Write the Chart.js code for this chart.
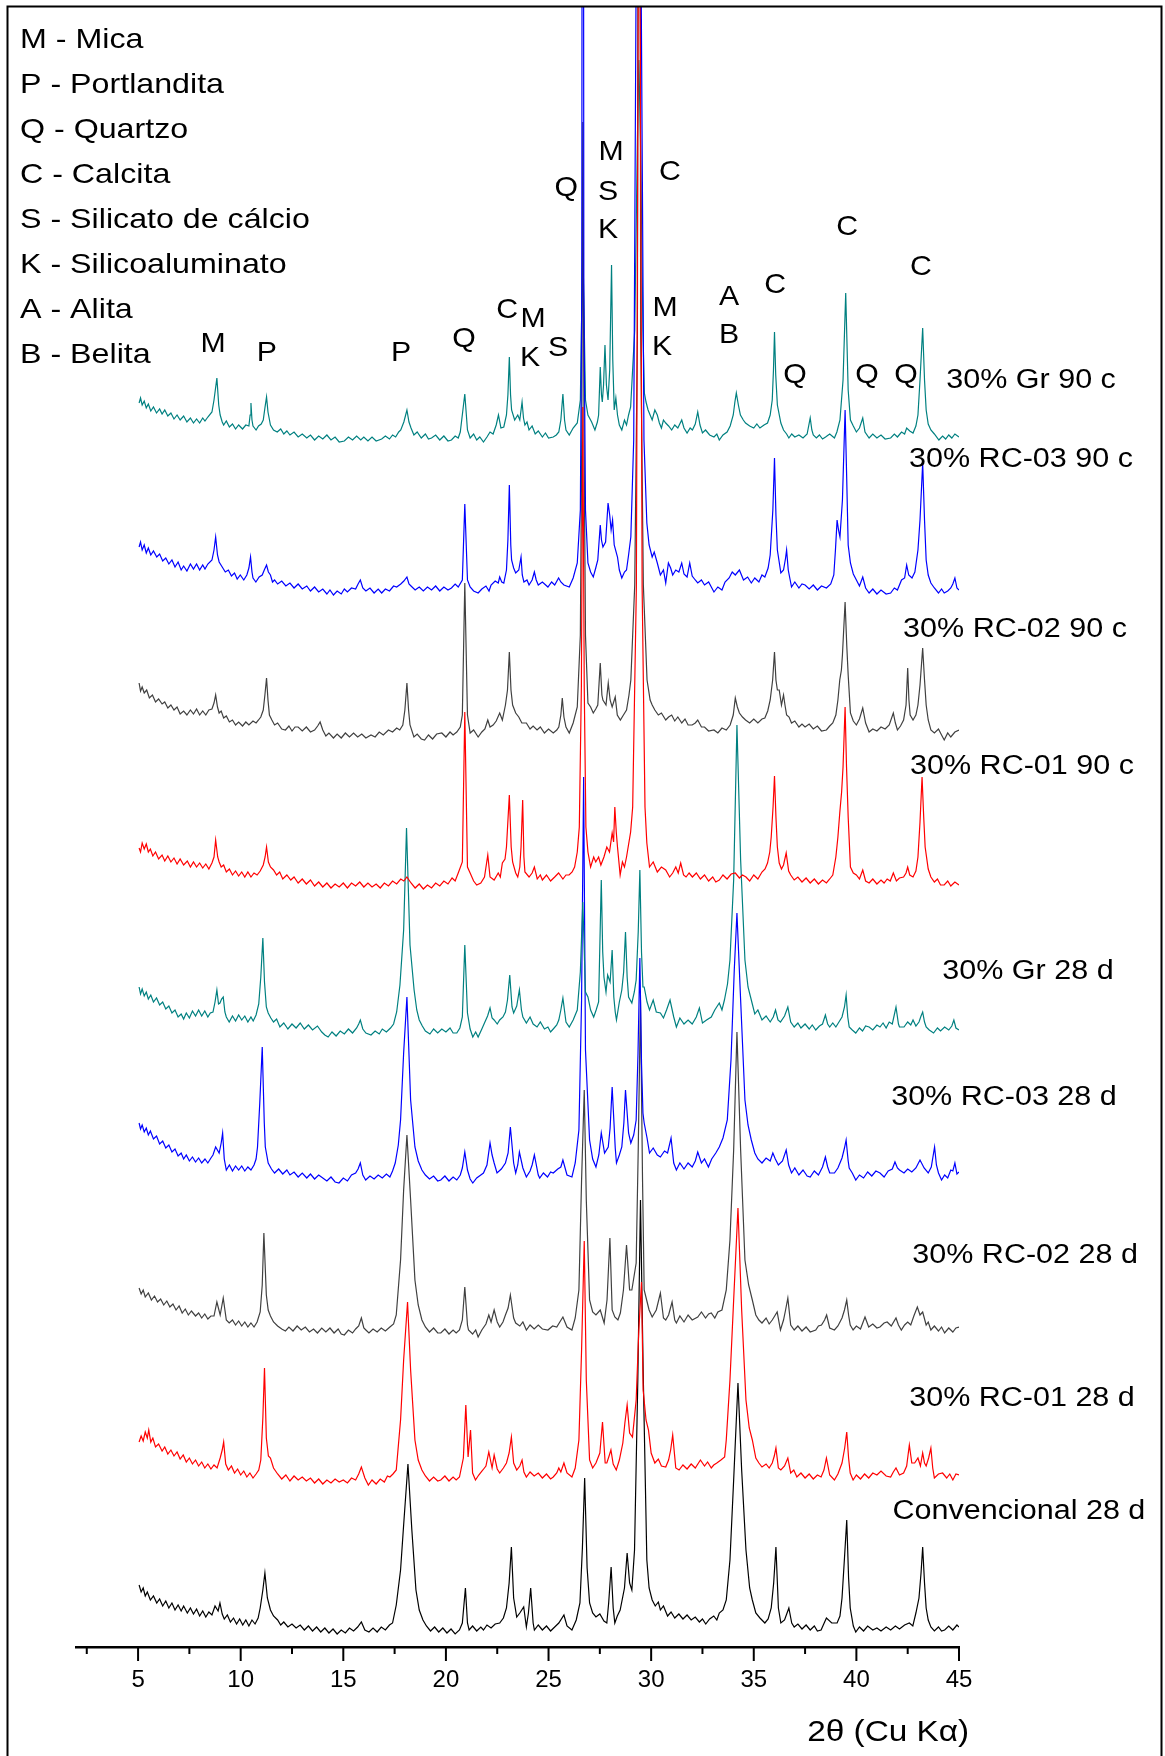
<!DOCTYPE html>
<html><head><meta charset="utf-8">
<script src="https://cdn.jsdelivr.net/npm/chart.js@4/dist/chart.umd.min.js"></script>
<style>html,body{margin:0;padding:0;background:#fff;}canvas{display:block;}</style>
</head><body>
<canvas id="c" width="1165" height="1756"></canvas>
<script>
// ---------- DATA (2θ in degrees, intensity in a.u. relative to each trace's baseline) ----------
const seriesNames = ['Convencional 28 d','30% RC-01 28 d','30% RC-02 28 d','30% RC-03 28 d','30% Gr 28 d','30% RC-01 90 c','30% RC-02 90 c','30% RC-03 90 c','30% Gr 90 c'];
const seriesOffsets = [19, 169, 317, 474, 615, 760, 912, 1057, 1207];

const conv28d = [[5.05,43],[5.15,36],[5.25,40],[5.35,32],[5.45,36],[5.6,28],[5.75,32],[5.91,25],[6.05,29],[6.2,22],[6.35,27],[6.5,20],[6.65,25],[6.8,18],[6.95,23],[7.1,17],[7.22,22],[7.4,15],[7.55,20],[7.7,14],[7.85,19],[8.0,12],[8.15,17],[8.3,11],[8.45,16],[8.6,13],[8.75,22],[8.9,17],[8.99,25],[9.1,14],[9.2,9],[9.35,13],[9.5,6],[9.65,10],[9.8,4],[9.95,9],[10.1,3],[10.25,8],[10.4,2],[10.55,8],[10.7,4],[10.85,10],[10.95,20],[11.08,38],[11.18,55],[11.3,30],[11.45,18],[11.6,12],[11.8,8],[11.95,3],[12.1,6],[12.3,1],[12.5,4],[12.7,0],[12.9,3],[13.1,-2],[13.3,2],[13.5,-3],[13.7,1],[13.9,-4],[14.1,0],[14.3,-5],[14.5,-1],[14.7,-6],[14.9,-2],[15.1,-5],[15.3,0],[15.5,-3],[15.7,1],[15.88,6],[16.05,-2],[16.25,-4],[16.45,0],[16.65,-4],[16.85,1],[17.05,-2],[17.25,3],[17.4,5],[17.58,23],[17.79,58],[17.94,103],[18.15,164],[18.34,98],[18.54,38],[18.7,18],[18.88,8],[19.05,2],[19.25,-3],[19.45,1],[19.65,-4],[19.85,0],[20.05,-5],[20.25,-1],[20.45,-6],[20.66,-2],[20.8,5],[20.95,40],[21.05,5],[21.13,-2],[21.3,2],[21.5,-3],[21.7,1],[21.83,-2],[22.0,3],[22.2,0],[22.4,4],[22.62,5],[22.8,10],[22.95,20],[23.08,45],[23.19,81],[23.3,30],[23.45,11],[23.6,15],[23.79,21],[23.92,1],[24.02,15],[24.13,40],[24.25,5],[24.31,-2],[24.5,3],[24.7,-2],[24.9,2],[25.1,-3],[25.3,1],[25.5,5],[25.75,13],[25.9,2],[26.14,-2],[26.35,8],[26.53,25],[26.65,80],[26.76,150],[26.88,60],[27.0,25],[27.15,15],[27.31,11],[27.5,14],[27.7,7],[27.84,5],[27.93,25],[28.05,61],[28.15,20],[28.23,5],[28.35,12],[28.49,18],[28.7,40],[28.83,75],[28.95,45],[29.06,38],[29.19,78],[29.35,248],[29.48,428],[29.61,258],[29.79,68],[29.9,40],[30.05,28],[30.2,22],[30.35,26],[30.45,18],[30.6,22],[30.8,12],[30.97,16],[31.15,10],[31.35,14],[31.55,9],[31.75,13],[31.95,8],[32.15,11],[32.35,6],[32.5,9],[32.66,4],[32.85,9],[33.05,12],[33.2,8],[33.32,15],[33.5,18],[33.66,28],[33.84,68],[34.02,148],[34.23,245],[34.41,158],[34.62,78],[34.8,40],[34.93,28],[35.1,15],[35.3,10],[35.54,5],[35.7,9],[35.85,20],[35.97,45],[36.08,81],[36.2,20],[36.32,5],[36.5,8],[36.71,20],[36.85,5],[36.97,1],[37.15,4],[37.35,-1],[37.55,3],[37.75,-2],[37.95,2],[38.1,-3],[38.28,-2],[38.54,10],[38.8,5],[39.06,5],[39.2,12],[39.3,30],[39.42,70],[39.53,108],[39.62,50],[39.7,20],[39.85,2],[39.97,-4],[40.15,1],[40.35,-3],[40.55,2],[40.8,-2],[41.0,0],[41.2,-3],[41.45,1],[41.67,-2],[41.9,2],[42.1,-1],[42.35,3],[42.58,5],[42.75,2],[42.9,15],[43.05,30],[43.15,55],[43.23,81],[43.32,45],[43.4,20],[43.5,8],[43.63,1],[43.8,-3],[44.0,1],[44.15,-3],[44.3,-2],[44.5,2],[44.7,-2],[44.9,3],[45.0,1]];

const rc01_28d = [[5.05,36],[5.15,42],[5.25,37],[5.35,46],[5.45,40],[5.52,48],[5.62,36],[5.72,40],[5.85,31],[6.0,34],[6.17,27],[6.3,31],[6.45,24],[6.6,28],[6.75,22],[6.9,26],[7.05,19],[7.2,23],[7.35,16],[7.5,20],[7.65,14],[7.8,18],[7.95,12],[8.1,16],[8.25,10],[8.4,14],[8.55,9],[8.7,13],[8.85,10],[9.0,20],[9.1,28],[9.17,36],[9.27,14],[9.4,8],[9.55,12],[9.7,5],[9.85,9],[10.0,3],[10.15,7],[10.3,1],[10.45,5],[10.6,0],[10.75,4],[10.88,8],[10.98,18],[11.08,60],[11.16,110],[11.25,40],[11.35,22],[11.45,20],[11.6,10],[11.8,4],[12.0,-1],[12.2,3],[12.4,-3],[12.6,2],[12.8,-2],[13.0,1],[13.2,-3],[13.4,0],[13.6,-5],[13.8,-1],[14.0,-6],[14.2,-2],[14.4,-5],[14.6,-1],[14.8,-4],[15.0,-2],[15.2,-5],[15.4,0],[15.6,-2],[15.75,4],[15.88,11],[16.05,0],[16.22,-7],[16.4,-2],[16.6,-6],[16.8,-1],[17.0,-4],[17.15,2],[17.27,1],[17.42,4],[17.58,8],[17.79,58],[17.94,118],[18.13,176],[18.28,108],[18.49,38],[18.65,18],[18.83,8],[19.0,2],[19.2,-3],[19.4,1],[19.6,-3],[19.75,-2],[19.95,2],[20.15,-3],[20.35,1],[20.5,-2],[20.66,1],[20.85,20],[20.97,73],[21.08,21],[21.2,48],[21.3,5],[21.44,-2],[21.6,3],[21.8,8],[21.95,12],[22.09,26],[22.25,10],[22.35,23],[22.5,9],[22.62,5],[22.8,10],[22.95,15],[23.08,25],[23.19,41],[23.3,15],[23.45,8],[23.6,12],[23.71,18],[23.8,6],[23.92,1],[24.1,6],[24.3,2],[24.5,5],[24.7,0],[24.9,4],[25.1,-1],[25.23,1],[25.4,5],[25.5,10],[25.6,6],[25.75,15],[25.9,5],[26.14,1],[26.3,10],[26.48,38],[26.61,128],[26.74,237],[26.84,98],[27.0,18],[27.15,10],[27.31,15],[27.5,25],[27.63,56],[27.76,15],[27.84,15],[27.95,22],[28.04,28],[28.15,14],[28.3,8],[28.45,18],[28.62,35],[28.72,55],[28.83,73],[28.95,45],[29.09,41],[29.27,78],[29.4,148],[29.53,196],[29.61,88],[29.75,58],[29.87,48],[30.0,25],[30.18,15],[30.35,19],[30.5,12],[30.71,11],[30.85,18],[30.95,28],[31.05,43],[31.2,10],[31.36,8],[31.55,13],[31.75,9],[31.95,14],[32.15,10],[32.4,18],[32.6,12],[32.75,16],[32.93,10],[33.05,13],[33.2,15],[33.4,18],[33.58,21],[33.66,38],[33.84,98],[34.02,178],[34.23,270],[34.41,168],[34.62,78],[34.78,50],[34.93,38],[35.1,20],[35.25,15],[35.4,11],[35.6,14],[35.75,10],[35.9,15],[36.0,22],[36.08,30],[36.2,10],[36.32,8],[36.5,12],[36.66,20],[36.8,5],[36.95,8],[37.1,1],[37.3,5],[37.5,0],[37.7,4],[37.9,-1],[38.1,3],[38.28,1],[38.42,8],[38.54,20],[38.7,3],[38.93,-2],[39.1,4],[39.3,15],[39.43,30],[39.53,46],[39.62,20],[39.7,5],[39.84,-2],[40.0,3],[40.2,-1],[40.4,4],[40.6,0],[40.8,5],[41.0,3],[41.2,7],[41.45,2],[41.67,1],[41.8,6],[41.93,10],[42.1,3],[42.3,5],[42.45,12],[42.58,33],[42.7,15],[42.84,15],[43.0,20],[43.12,12],[43.23,25],[43.32,15],[43.4,12],[43.52,20],[43.63,30],[43.72,10],[43.8,0],[44.0,4],[44.2,5],[44.4,0],[44.55,4],[44.7,-2],[44.85,4],[45.0,3]];

const rc02_28d = [[5.05,42],[5.15,36],[5.25,40],[5.35,33],[5.5,37],[5.65,30],[5.8,34],[5.95,28],[6.1,31],[6.25,25],[6.4,29],[6.55,23],[6.7,26],[6.85,20],[7.0,24],[7.15,17],[7.3,21],[7.45,15],[7.6,19],[7.8,14],[7.95,17],[8.1,12],[8.25,16],[8.4,11],[8.55,14],[8.7,14],[8.84,28],[9.0,15],[9.08,24],[9.15,32],[9.3,10],[9.44,7],[9.6,10],[9.75,5],[9.9,9],[10.05,4],[10.2,8],[10.35,3],[10.5,7],[10.65,3],[10.8,8],[10.95,18],[11.05,45],[11.13,97],[11.25,35],[11.34,20],[11.45,14],[11.6,8],[11.8,4],[12.0,1],[12.18,-1],[12.35,3],[12.55,-1],[12.75,4],[12.95,0],[13.15,3],[13.35,-2],[13.55,1],[13.74,-3],[13.95,2],[14.15,-2],[14.35,2],[14.55,-3],[14.75,1],[14.9,-4],[15.05,-5],[15.25,0],[15.45,-3],[15.6,1],[15.75,4],[15.88,12],[16.0,2],[16.1,0],[16.25,-3],[16.45,1],[16.65,-2],[16.85,2],[17.05,-1],[17.27,3],[17.45,6],[17.58,15],[17.79,70],[17.94,140],[18.1,195],[18.28,130],[18.49,50],[18.65,25],[18.83,10],[19.0,3],[19.2,-2],[19.4,2],[19.6,-3],[19.75,-3],[19.95,1],[20.15,-4],[20.35,0],[20.5,-3],[20.66,0],[20.8,10],[20.92,43],[21.05,5],[21.1,0],[21.3,-4],[21.45,0],[21.57,-7],[21.75,0],[21.95,6],[22.09,15],[22.2,8],[22.35,20],[22.5,8],[22.62,3],[22.78,8],[22.9,15],[23.03,22],[23.14,35],[23.3,12],[23.4,7],[23.6,4],[23.75,8],[23.92,0],[24.1,5],[24.3,1],[24.5,5],[24.7,1],[24.97,0],[25.2,4],[25.4,3],[25.55,8],[25.7,13],[25.9,3],[26.14,0],[26.3,12],[26.48,40],[26.61,150],[26.74,240],[26.84,130],[27.0,30],[27.15,18],[27.31,15],[27.52,20],[27.71,7],[27.85,30],[27.99,92],[28.1,20],[28.23,13],[28.38,10],[28.5,17],[28.65,40],[28.8,85],[28.95,40],[29.06,40],[29.27,67],[29.37,180],[29.48,330],[29.58,150],[29.66,40],[29.78,30],[29.9,20],[30.05,13],[30.25,20],[30.45,37],[30.6,12],[30.71,10],[30.85,15],[31.02,28],[31.15,10],[31.23,7],[31.4,14],[31.6,8],[31.8,15],[32.0,10],[32.27,13],[32.45,18],[32.65,12],[32.8,16],[32.93,17],[33.1,12],[33.25,18],[33.45,20],[33.66,40],[33.84,90],[34.02,180],[34.18,298],[34.36,180],[34.57,70],[34.75,45],[34.93,30],[35.1,15],[35.25,10],[35.4,7],[35.6,12],[35.75,6],[35.9,10],[36.02,14],[36.14,18],[36.3,0],[36.45,10],[36.55,20],[36.66,32],[36.8,5],[36.97,0],[37.15,4],[37.35,-1],[37.55,3],[37.75,-2],[38.02,0],[38.15,4],[38.3,5],[38.45,10],[38.55,15],[38.7,2],[38.93,0],[39.1,4],[39.3,12],[39.42,20],[39.53,30],[39.62,15],[39.7,5],[39.84,0],[40.0,4],[40.2,1],[40.42,13],[40.6,3],[40.8,6],[41.0,2],[41.15,3],[41.35,7],[41.5,8],[41.7,4],[41.93,12],[42.05,5],[42.19,0],[42.35,5],[42.5,8],[42.65,5],[42.8,14],[42.97,23],[43.1,15],[43.23,18],[43.4,5],[43.5,8],[43.63,0],[43.8,4],[44.0,-1],[44.15,3],[44.3,-3],[44.5,2],[44.7,-2],[44.85,2],[45.0,3]];

const rc03_28d = [[5.05,50],[5.12,44],[5.2,48],[5.3,41],[5.4,45],[5.5,38],[5.6,42],[5.75,34],[5.9,37],[6.05,29],[6.2,32],[6.35,25],[6.5,28],[6.65,21],[6.8,24],[6.95,17],[7.1,20],[7.22,14],[7.35,18],[7.5,12],[7.65,16],[7.8,11],[7.95,15],[8.1,10],[8.26,14],[8.4,10],[8.55,15],[8.65,18],[8.78,26],[8.95,20],[9.05,30],[9.12,40],[9.2,14],[9.3,3],[9.45,8],[9.6,2],[9.75,7],[9.9,3],[10.05,7],[10.2,2],[10.35,6],[10.5,3],[10.65,8],[10.75,14],[10.82,26],[10.93,70],[11.05,126],[11.15,50],[11.2,26],[11.34,10],[11.5,4],[11.65,0],[11.85,4],[12.05,-1],[12.25,3],[12.4,-2],[12.6,1],[12.8,-4],[13.0,0],[13.22,-5],[13.4,-1],[13.6,-6],[13.8,-2],[14.0,-5],[14.2,-8],[14.4,-4],[14.6,-9],[14.79,-10],[15.0,-5],[15.2,-8],[15.4,-2],[15.6,0],[15.72,4],[15.83,10],[15.95,-2],[16.09,-7],[16.3,-3],[16.5,-6],[16.7,-2],[16.9,-5],[17.1,-1],[17.27,-4],[17.4,2],[17.53,10],[17.68,28],[17.79,53],[17.94,120],[18.1,176],[18.28,73],[18.49,26],[18.65,12],[18.83,3],[19.0,-2],[19.2,-6],[19.4,-3],[19.6,-8],[19.75,-7],[19.95,-3],[20.15,-8],[20.35,-4],[20.53,-7],[20.7,-2],[20.8,5],[20.92,21],[21.05,3],[21.18,-6],[21.31,-10],[21.5,-5],[21.7,-2],[21.83,0],[22.0,8],[22.15,30],[22.25,18],[22.35,10],[22.49,0],[22.7,4],[22.9,10],[23.03,20],[23.14,46],[23.3,10],[23.4,0],[23.5,8],[23.58,21],[23.75,5],[23.92,-4],[24.1,2],[24.2,8],[24.31,18],[24.5,-2],[24.57,-5],[24.75,0],[24.95,-4],[25.1,1],[25.23,0],[25.45,4],[25.6,6],[25.7,13],[25.9,-2],[26.14,-4],[26.3,10],[26.48,43],[26.61,173],[26.71,396],[26.8,123],[27.0,33],[27.15,14],[27.31,6],[27.45,18],[27.57,40],[27.73,20],[27.91,26],[28.0,45],[28.1,86],[28.25,25],[28.31,10],[28.45,18],[28.57,26],[28.67,50],[28.75,83],[28.9,40],[29.01,30],[29.15,38],[29.27,53],[29.36,120],[29.45,215],[29.53,110],[29.6,60],[29.66,50],[29.8,35],[29.92,20],[30.1,25],[30.3,18],[30.45,16],[30.65,22],[30.8,20],[30.97,35],[31.1,10],[31.23,3],[31.4,10],[31.6,4],[31.8,10],[32.0,6],[32.15,12],[32.27,21],[32.45,10],[32.6,14],[32.79,6],[32.95,14],[33.15,20],[33.32,26],[33.5,35],[33.71,53],[33.89,113],[34.05,203],[34.18,260],[34.36,173],[34.57,73],[34.72,48],[34.88,33],[35.05,20],[35.2,14],[35.4,10],[35.6,15],[35.8,12],[35.93,20],[36.05,14],[36.2,8],[36.4,12],[36.58,23],[36.7,8],[36.84,0],[37.0,5],[37.2,-2],[37.4,3],[37.6,-3],[37.75,-4],[37.95,2],[38.15,-2],[38.35,6],[38.49,16],[38.6,6],[38.7,0],[38.93,0],[39.1,5],[39.3,15],[39.42,25],[39.5,33],[39.6,12],[39.65,5],[39.8,0],[39.97,-7],[40.15,-2],[40.35,-5],[40.55,1],[40.75,-3],[40.95,2],[41.15,0],[41.35,-4],[41.55,2],[41.75,4],[41.88,11],[42.0,5],[42.1,3],[42.32,0],[42.5,4],[42.7,1],[42.9,5],[43.0,9],[43.1,13],[43.3,5],[43.5,0],[43.65,6],[43.81,26],[43.9,8],[44.0,0],[44.15,-7],[44.3,-2],[44.45,-5],[44.6,3],[44.7,2],[44.8,10],[44.9,-1],[45.0,1]];

const gr28d = [[5.05,45],[5.12,38],[5.2,43],[5.3,36],[5.4,40],[5.5,33],[5.62,37],[5.75,30],[5.9,34],[6.05,27],[6.2,30],[6.35,23],[6.5,26],[6.65,19],[6.8,22],[6.95,15],[7.1,18],[7.22,13],[7.35,19],[7.5,14],[7.65,21],[7.8,16],[7.95,22],[8.1,16],[8.25,21],[8.4,15],[8.52,19],[8.65,20],[8.75,30],[8.84,42],[8.92,28],[8.99,29],[9.07,33],[9.15,35],[9.23,20],[9.3,15],[9.44,10],[9.6,16],[9.75,11],[9.9,17],[10.05,12],[10.2,16],[10.35,10],[10.5,15],[10.61,11],[10.75,17],[10.88,28],[10.98,55],[11.08,94],[11.16,50],[11.25,25],[11.34,19],[11.47,14],[11.6,10],[11.75,13],[11.91,5],[12.1,9],[12.3,3],[12.5,8],[12.7,4],[12.9,9],[13.1,3],[13.3,7],[13.5,2],[13.74,6],[13.95,0],[14.1,-3],[14.26,-5],[14.45,0],[14.65,-4],[14.85,1],[15.05,-2],[15.25,3],[15.45,-1],[15.65,4],[15.75,8],[15.83,12],[15.95,3],[16.1,-1],[16.35,-3],[16.55,1],[16.75,-2],[16.9,3],[17.1,0],[17.3,4],[17.45,8],[17.6,20],[17.76,47],[17.94,102],[18.08,204],[18.25,87],[18.45,42],[18.58,22],[18.7,12],[18.85,6],[19.0,1],[19.22,-2],[19.4,3],[19.6,-1],[19.8,3],[20.0,0],[20.2,4],[20.35,-1],[20.53,-1],[20.68,4],[20.8,15],[20.92,87],[21.05,19],[21.18,3],[21.31,-5],[21.45,0],[21.57,-5],[21.75,3],[21.9,10],[22.03,16],[22.15,24],[22.25,14],[22.35,12],[22.5,8],[22.62,12],[22.78,15],[22.9,20],[23.0,32],[23.11,57],[23.22,25],[23.3,19],[23.45,26],[23.58,42],[23.68,22],[23.75,15],[23.92,9],[24.1,15],[24.25,8],[24.44,5],[24.6,10],[24.8,3],[24.97,5],[25.1,0],[25.23,3],[25.4,7],[25.5,12],[25.6,22],[25.7,34],[25.85,10],[26.01,5],[26.2,12],[26.4,22],[26.55,60],[26.67,130],[26.8,40],[26.92,35],[27.05,22],[27.2,15],[27.32,22],[27.44,30],[27.57,152],[27.64,80],[27.7,55],[27.8,40],[27.88,57],[28.0,50],[28.1,82],[28.18,35],[28.25,20],[28.31,12],[28.45,30],[28.57,42],[28.66,60],[28.75,100],[28.83,55],[28.9,35],[29.06,29],[29.18,40],[29.27,52],[29.37,100],[29.45,162],[29.53,80],[29.6,45],[29.66,45],[29.8,30],[29.92,22],[30.1,32],[30.25,20],[30.45,19],[30.6,14],[30.75,22],[30.92,32],[31.1,15],[31.23,5],[31.4,14],[31.6,8],[31.8,12],[32.0,8],[32.2,15],[32.35,24],[32.5,9],[32.7,12],[32.93,15],[33.1,22],[33.32,29],[33.45,22],[33.57,32],[33.72,48],[33.84,72],[34.02,152],[34.18,307],[34.36,172],[34.57,72],[34.72,45],[34.88,32],[35.05,18],[35.2,22],[35.4,12],[35.6,16],[35.8,10],[35.95,15],[36.06,22],[36.18,12],[36.3,10],[36.5,16],[36.66,25],[36.8,10],[36.97,5],[37.15,9],[37.3,4],[37.5,8],[37.7,3],[37.85,7],[38.02,2],[38.2,6],[38.35,8],[38.49,17],[38.6,8],[38.7,5],[38.85,9],[39.0,5],[39.15,10],[39.3,15],[39.42,25],[39.5,37],[39.58,15],[39.65,5],[39.8,2],[39.97,-1],[40.15,4],[40.3,1],[40.45,6],[40.62,5],[40.8,2],[41.0,7],[41.15,5],[41.3,9],[41.45,4],[41.6,10],[41.75,8],[41.93,25],[42.05,8],[42.1,5],[42.32,5],[42.5,10],[42.65,7],[42.76,12],[42.9,6],[43.05,10],[43.15,16],[43.23,20],[43.32,10],[43.4,5],[43.55,2],[43.76,-1],[43.95,4],[44.1,1],[44.3,5],[44.5,2],[44.65,6],[44.75,12],[44.85,4],[45.0,2]];

const rc01_90c = [[5.05,39],[5.12,35],[5.2,44],[5.3,38],[5.4,43],[5.5,35],[5.6,38],[5.72,31],[5.85,35],[6.0,28],[6.17,32],[6.3,26],[6.45,31],[6.6,25],[6.75,29],[6.9,23],[7.05,28],[7.22,22],[7.4,26],[7.55,20],[7.7,25],[7.85,20],[8.0,24],[8.15,19],[8.3,23],[8.45,18],[8.6,24],[8.7,30],[8.78,47],[8.88,30],[8.95,25],[9.05,20],[9.17,22],[9.3,15],[9.45,18],[9.6,12],[9.75,16],[9.9,11],[10.05,15],[10.2,10],[10.35,15],[10.5,10],[10.65,14],[10.8,12],[10.95,16],[11.1,22],[11.19,30],[11.26,40],[11.35,25],[11.45,20],[11.6,17],[11.75,12],[11.9,15],[12.05,8],[12.25,12],[12.44,7],[12.6,10],[12.8,4],[13.0,8],[13.2,3],[13.4,7],[13.6,1],[13.8,5],[14.0,0],[14.2,4],[14.4,-1],[14.6,3],[14.8,0],[15.0,4],[15.2,-1],[15.4,4],[15.6,1],[15.8,5],[16.0,0],[16.2,4],[16.4,0],[16.6,3],[16.8,-1],[17.0,4],[17.2,1],[17.4,6],[17.6,3],[17.8,8],[17.95,6],[18.1,10],[18.2,7],[18.3,4],[18.5,-1],[18.7,3],[18.9,-2],[19.1,2],[19.3,-1],[19.5,4],[19.7,1],[19.9,6],[20.1,3],[20.3,9],[20.45,6],[20.6,14],[20.8,25],[20.92,175],[21.05,20],[21.18,14],[21.35,6],[21.5,2],[21.7,4],[21.88,10],[22.04,32],[22.15,10],[22.35,7],[22.55,14],[22.65,10],[22.75,24],[22.88,28],[22.95,40],[23.09,92],[23.18,40],[23.25,25],[23.4,14],[23.5,10],[23.6,20],[23.66,40],[23.74,87],[23.8,30],[23.85,15],[24.05,10],[24.2,14],[24.31,20],[24.45,8],[24.6,12],[24.7,7],[24.9,12],[25.1,6],[25.3,10],[25.49,14],[25.7,8],[25.85,12],[26.0,12],[26.15,15],[26.27,20],[26.4,35],[26.5,60],[26.6,200],[26.67,480],[26.74,200],[26.82,60],[26.92,35],[27.05,20],[27.2,30],[27.3,25],[27.44,30],[27.55,22],[27.7,30],[27.84,40],[27.97,35],[28.1,54],[28.17,45],[28.23,80],[28.3,55],[28.36,40],[28.49,12],[28.6,25],[28.7,20],[28.8,30],[28.88,40],[29.0,55],[29.1,80],[29.28,300],[29.37,880],[29.42,1600],[29.47,880],[29.56,300],[29.7,80],[29.79,44],[29.92,20],[30.1,25],[30.3,15],[30.5,20],[30.71,17],[30.9,10],[31.05,14],[31.2,20],[31.32,14],[31.44,24],[31.58,12],[31.7,10],[31.85,14],[32.01,10],[32.2,14],[32.4,8],[32.6,12],[32.8,6],[33.0,10],[33.15,5],[33.32,7],[33.5,12],[33.7,8],[33.9,13],[34.1,14],[34.3,9],[34.45,12],[34.62,10],[34.8,6],[35.0,12],[35.2,8],[35.4,15],[35.55,18],[35.67,24],[35.78,35],[35.85,50],[35.94,80],[36.01,111],[36.08,70],[36.15,40],[36.24,24],[36.35,18],[36.45,22],[36.58,34],[36.7,16],[36.8,12],[36.97,7],[37.15,10],[37.35,5],[37.55,9],[37.75,4],[37.95,8],[38.15,3],[38.35,7],[38.54,4],[38.7,8],[38.85,12],[39.0,30],[39.1,50],[39.19,74],[39.28,95],[39.35,120],[39.45,180],[39.52,120],[39.6,70],[39.71,20],[39.85,14],[40.0,12],[40.15,8],[40.31,17],[40.45,6],[40.62,4],[40.8,8],[41.0,3],[41.2,7],[41.35,4],[41.5,8],[41.65,6],[41.8,14],[41.95,6],[42.1,9],[42.3,10],[42.42,14],[42.5,20],[42.6,12],[42.76,10],[42.9,16],[43.0,30],[43.1,65],[43.2,110],[43.28,70],[43.35,40],[43.5,18],[43.63,10],[43.8,5],[43.95,8],[44.1,2],[44.28,2],[44.45,6],[44.6,1],[44.8,5],[45.0,2]];

const rc02_90c = [[5.05,52],[5.12,44],[5.2,48],[5.3,42],[5.42,45],[5.55,37],[5.7,40],[5.85,33],[6.0,36],[6.17,31],[6.3,33],[6.45,27],[6.6,30],[6.75,25],[6.9,28],[7.05,21],[7.22,24],[7.38,20],[7.55,25],[7.7,21],[7.85,26],[8.0,20],[8.15,24],[8.3,20],[8.45,25],[8.6,26],[8.7,32],[8.78,40],[8.87,28],[8.95,22],[9.05,24],[9.17,17],[9.3,19],[9.45,13],[9.6,15],[9.75,10],[9.9,13],[10.09,9],[10.25,13],[10.4,10],[10.6,14],[10.75,12],[10.87,15],[10.98,18],[11.1,25],[11.18,40],[11.26,57],[11.33,35],[11.4,20],[11.52,15],[11.65,10],[11.8,12],[12.0,6],[12.18,5],[12.35,9],[12.5,4],[12.65,8],[12.8,8],[13.0,4],[13.2,8],[13.4,3],[13.6,5],[13.75,9],[13.87,13],[14.0,5],[14.15,-1],[14.3,2],[14.52,-3],[14.7,1],[14.9,-3],[15.1,2],[15.3,-2],[15.5,2],[15.7,-2],[15.9,1],[16.1,-3],[16.35,0],[16.55,-2],[16.75,3],[16.95,0],[17.2,5],[17.4,3],[17.6,7],[17.75,5],[17.9,10],[18.0,25],[18.1,52],[18.18,25],[18.25,10],[18.44,-2],[18.6,1],[18.8,-4],[18.96,-5],[19.15,0],[19.35,-4],[19.55,1],[19.8,2],[20.0,-2],[20.2,3],[20.35,0],[20.53,3],[20.7,8],[20.8,20],[20.92,152],[21.05,20],[21.18,2],[21.35,5],[21.57,-2],[21.75,3],[21.9,6],[22.04,15],[22.15,8],[22.3,10],[22.45,14],[22.62,22],[22.75,15],[22.9,30],[23.0,45],[23.09,83],[23.17,45],[23.25,30],[23.4,22],[23.55,18],[23.7,12],[23.92,12],[24.1,6],[24.25,9],[24.44,5],[24.6,8],[24.8,2],[25.0,6],[25.23,2],[25.4,5],[25.5,8],[25.6,20],[25.67,37],[25.75,18],[25.85,8],[26.01,2],[26.2,12],[26.4,28],[26.55,100],[26.62,300],[26.67,613],[26.73,300],[26.8,100],[26.92,32],[27.05,28],[27.18,22],[27.3,26],[27.4,30],[27.52,72],[27.6,40],[27.65,35],[27.8,30],[27.91,52],[28.0,35],[28.1,28],[28.25,38],[28.35,20],[28.5,15],[28.65,20],[28.8,25],[28.92,40],[29.01,55],[29.2,150],[29.33,400],[29.41,1600],[29.49,400],[29.62,150],[29.8,55],[29.95,35],[30.05,30],[30.18,25],[30.35,20],[30.5,22],[30.71,15],[30.85,18],[31.0,20],[31.15,14],[31.3,18],[31.49,12],[31.65,16],[31.8,10],[32.0,10],[32.15,12],[32.27,15],[32.45,8],[32.6,8],[32.8,4],[33.06,5],[33.25,2],[33.45,7],[33.66,5],[33.85,10],[34.0,20],[34.1,37],[34.2,28],[34.3,22],[34.45,18],[34.6,15],[34.8,12],[35.0,16],[35.2,12],[35.4,16],[35.54,17],[35.68,24],[35.8,35],[35.92,55],[36.01,83],[36.08,55],[36.15,45],[36.24,45],[36.35,30],[36.45,40],[36.52,30],[36.6,20],[36.72,18],[36.84,12],[37.0,14],[37.2,8],[37.35,11],[37.5,8],[37.7,11],[37.9,6],[38.1,9],[38.3,4],[38.54,5],[38.7,9],[38.85,12],[39.0,20],[39.1,35],[39.19,55],[39.27,65],[39.32,80],[39.45,133],[39.53,90],[39.6,60],[39.71,22],[39.85,14],[40.0,10],[40.15,16],[40.31,27],[40.45,12],[40.62,3],[40.8,6],[41.0,4],[41.2,8],[41.4,6],[41.6,10],[41.8,22],[41.9,12],[42.0,5],[42.15,9],[42.3,15],[42.42,30],[42.5,67],[42.56,35],[42.62,20],[42.76,15],[42.9,20],[43.0,30],[43.1,50],[43.23,87],[43.32,55],[43.4,30],[43.5,15],[43.63,5],[43.8,2],[44.0,6],[44.15,0],[44.28,-5],[44.45,2],[44.6,-2],[44.8,3],[45.0,5]];

const rc03_90c = [[5.05,43],[5.12,48],[5.2,40],[5.3,45],[5.4,37],[5.5,42],[5.62,35],[5.75,39],[5.91,33],[6.05,36],[6.2,29],[6.35,32],[6.5,26],[6.65,30],[6.8,23],[6.95,28],[7.1,20],[7.22,24],[7.38,19],[7.55,26],[7.7,21],[7.85,26],[8.0,20],[8.15,25],[8.26,21],[8.4,26],[8.6,30],[8.7,40],[8.78,53],[8.87,35],[8.95,28],[9.1,23],[9.25,18],[9.4,20],[9.55,14],[9.7,17],[9.83,11],[9.98,15],[10.15,10],[10.3,15],[10.4,22],[10.48,33],[10.55,18],[10.6,12],[10.74,8],[10.9,13],[11.05,15],[11.15,20],[11.26,25],[11.35,18],[11.45,15],[11.55,8],[11.65,10],[11.8,6],[12.0,9],[12.2,4],[12.4,7],[12.6,2],[12.8,6],[13.0,1],[13.22,4],[13.4,-1],[13.6,3],[13.8,-2],[14.0,1],[14.2,-4],[14.35,0],[14.52,-5],[14.7,-1],[14.9,-4],[15.05,1],[15.2,-2],[15.4,2],[15.6,1],[15.72,6],[15.83,10],[15.95,2],[16.1,-1],[16.3,2],[16.5,-3],[16.7,1],[16.87,-3],[17.05,1],[17.25,-1],[17.45,4],[17.6,3],[17.8,6],[17.95,9],[18.1,13],[18.2,6],[18.3,4],[18.5,0],[18.7,3],[18.9,-1],[19.1,3],[19.3,0],[19.5,4],[19.7,-1],[19.9,3],[20.1,0],[20.27,2],[20.45,6],[20.6,3],[20.8,10],[20.92,86],[21.05,10],[21.18,3],[21.35,-1],[21.57,-3],[21.75,1],[21.95,4],[22.1,-1],[22.2,5],[22.4,9],[22.55,7],[22.62,13],[22.72,8],[22.82,7],[22.95,20],[23.02,50],[23.09,105],[23.16,45],[23.2,30],[23.3,22],[23.4,17],[23.55,20],[23.66,33],[23.72,15],[23.8,8],[23.95,10],[24.05,5],[24.2,10],[24.31,18],[24.4,10],[24.5,5],[24.7,8],[24.97,3],[25.15,8],[25.3,5],[25.49,12],[25.6,8],[25.75,5],[26.01,3],[26.2,12],[26.4,27],[26.55,80],[26.62,300],[26.67,1700],[26.72,300],[26.8,80],[26.92,27],[27.05,18],[27.18,13],[27.3,22],[27.4,30],[27.52,65],[27.58,50],[27.65,43],[27.78,48],[27.9,87],[27.98,75],[28.05,60],[28.12,70],[28.2,45],[28.36,33],[28.45,20],[28.57,12],[28.7,18],[28.8,20],[28.9,35],[29.01,53],[29.15,150],[29.26,583],[29.39,1700],[29.52,583],[29.65,150],[29.79,67],[29.9,45],[30.05,33],[30.15,38],[30.3,27],[30.45,15],[30.6,20],[30.71,7],[30.84,27],[30.95,22],[31.05,15],[31.2,20],[31.35,18],[31.49,27],[31.6,16],[31.75,13],[31.88,27],[32.0,14],[32.15,10],[32.27,7],[32.45,10],[32.6,5],[32.8,8],[33.06,-2],[33.25,3],[33.45,0],[33.6,8],[33.8,12],[33.95,18],[34.1,15],[34.3,20],[34.5,10],[34.7,13],[34.88,7],[35.05,12],[35.25,8],[35.4,15],[35.54,13],[35.7,22],[35.8,35],[35.93,80],[36.01,132],[36.08,75],[36.15,40],[36.32,17],[36.45,20],[36.55,32],[36.6,40],[36.68,20],[36.84,3],[37.0,8],[37.2,2],[37.35,6],[37.5,5],[37.7,1],[37.9,5],[38.1,0],[38.3,4],[38.54,2],[38.75,6],[38.9,15],[38.98,40],[39.06,70],[39.13,60],[39.2,53],[39.32,90],[39.45,180],[39.53,110],[39.6,45],[39.71,27],[39.85,16],[40.0,10],[40.15,4],[40.31,13],[40.45,2],[40.62,-3],[40.8,1],[41.0,-4],[41.2,0],[41.45,-4],[41.67,-3],[41.85,2],[42.0,0],[42.2,10],[42.35,12],[42.45,25],[42.55,15],[42.71,12],[42.85,18],[43.0,40],[43.1,70],[43.23,127],[43.32,70],[43.4,30],[43.5,15],[43.63,7],[43.8,2],[44.0,-3],[44.15,1],[44.28,-3],[44.45,-1],[44.6,2],[44.7,6],[44.8,12],[44.9,2],[45.0,0]];

const gr90c = [[5.05,37],[5.12,42],[5.2,35],[5.3,39],[5.4,32],[5.5,36],[5.62,29],[5.75,33],[5.9,27],[6.05,31],[6.17,26],[6.3,30],[6.45,24],[6.6,27],[6.75,21],[6.9,25],[7.05,20],[7.22,24],[7.38,18],[7.55,22],[7.7,17],[7.85,21],[8.0,17],[8.15,22],[8.26,19],[8.4,23],[8.6,28],[8.7,40],[8.84,62],[8.93,35],[9.0,25],[9.1,18],[9.17,15],[9.3,19],[9.45,13],[9.6,16],[9.75,11],[9.9,15],[10.09,11],[10.25,15],[10.4,14],[10.46,25],[10.5,37],[10.55,20],[10.6,14],[10.75,10],[10.87,14],[11.0,16],[11.1,20],[11.18,32],[11.26,43],[11.33,28],[11.45,15],[11.6,10],[11.78,8],[11.95,11],[12.1,6],[12.25,9],[12.4,5],[12.6,8],[12.8,3],[13.0,6],[13.22,2],[13.4,5],[13.6,0],[13.8,4],[14.0,1],[14.2,5],[14.4,0],[14.6,3],[14.8,-2],[15.05,-1],[15.25,3],[15.45,0],[15.65,4],[15.85,0],[16.0,3],[16.2,-1],[16.4,3],[16.6,-1],[16.87,1],[17.05,4],[17.25,1],[17.4,5],[17.55,3],[17.7,8],[17.8,10],[17.95,18],[18.1,30],[18.2,18],[18.3,12],[18.44,5],[18.6,8],[18.8,2],[19.0,6],[19.15,1],[19.3,2],[19.5,5],[19.7,0],[19.9,4],[20.1,-1],[20.27,0],[20.45,4],[20.6,2],[20.7,8],[20.92,46],[21.05,10],[21.18,2],[21.35,6],[21.5,0],[21.65,3],[21.83,-2],[22.0,3],[22.15,8],[22.3,6],[22.45,15],[22.56,25],[22.68,12],[22.82,13],[22.95,25],[23.02,45],[23.09,83],[23.15,45],[23.2,30],[23.35,20],[23.5,25],[23.6,20],[23.71,38],[23.78,22],[23.85,15],[23.95,18],[24.05,10],[24.2,14],[24.35,6],[24.5,9],[24.7,3],[24.85,7],[25.0,2],[25.23,3],[25.38,5],[25.5,8],[25.6,20],[25.7,46],[25.78,20],[25.85,10],[26.01,5],[26.2,12],[26.4,17],[26.55,40],[26.67,200],[26.8,40],[26.92,25],[27.1,18],[27.26,10],[27.38,18],[27.44,25],[27.52,73],[27.58,45],[27.62,38],[27.68,55],[27.75,95],[27.82,55],[27.9,40],[27.98,70],[28.07,175],[28.13,80],[28.2,30],[28.28,42],[28.36,25],[28.45,15],[28.57,10],[28.7,20],[28.8,15],[28.9,25],[29.0,33],[29.2,110],[29.33,300],[29.4,380],[29.48,300],[29.6,110],[29.67,47],[29.75,38],[29.85,30],[29.95,25],[30.05,20],[30.18,30],[30.3,25],[30.4,17],[30.5,12],[30.6,20],[30.71,17],[30.85,14],[31.0,10],[31.15,15],[31.3,12],[31.49,20],[31.6,12],[31.75,7],[31.9,12],[32.01,10],[32.15,16],[32.27,28],[32.38,15],[32.5,7],[32.65,10],[32.85,5],[33.06,3],[33.2,6],[33.32,0],[33.5,5],[33.7,8],[33.85,14],[34.0,25],[34.08,38],[34.15,47],[34.25,35],[34.35,25],[34.49,20],[34.6,17],[34.8,14],[35.0,12],[35.15,16],[35.3,12],[35.5,15],[35.67,17],[35.8,25],[35.9,40],[35.96,70],[36.01,108],[36.07,65],[36.15,35],[36.32,17],[36.45,10],[36.6,6],[36.71,2],[36.85,6],[37.0,3],[37.2,5],[37.4,2],[37.6,6],[37.75,22],[37.83,10],[37.9,5],[38.05,2],[38.2,5],[38.35,1],[38.5,3],[38.7,6],[38.93,2],[39.05,8],[39.2,20],[39.35,60],[39.48,147],[39.55,90],[39.6,50],[39.71,20],[39.85,14],[40.0,8],[40.15,12],[40.31,22],[40.42,8],[40.62,2],[40.8,6],[41.0,2],[41.2,5],[41.4,1],[41.67,2],[41.85,6],[42.0,3],[42.2,8],[42.35,6],[42.45,12],[42.6,9],[42.76,7],[42.9,14],[43.0,25],[43.1,60],[43.23,112],[43.32,60],[43.4,30],[43.5,16],[43.63,10],[43.8,6],[44.02,0],[44.2,4],[44.35,1],[44.5,5],[44.65,2],[44.8,6],[45.0,3]];

const xTickValues = [2.5,5,7.5,10,12.5,15,17.5,20,22.5,25,27.5,30,32.5,35,37.5,40,42.5,45];
const phaseLegend = ['M - Mica','P - Portlandita','Q - Quartzo','C - Calcita','S - Silicato de cálcio','K - Silicoaluminato','A - Alita','B - Belita'];
const peakLabels     = ['M','P','P','Q','C','M','K','S','Q','M','S','K','C','M','K','A','B','C','Q','C','Q','Q','C'];
const peakLabelTheta = [8.65,11.28,17.81,20.88,22.98,24.25,24.10,25.47,25.86,28.05,27.90,27.90,30.92,30.68,30.53,33.80,33.80,36.04,37.01,39.55,40.52,42.42,43.15];
const peakLabelLevel = [1303,1294,1294,1308,1337,1328,1289,1299,1459,1495,1455,1417,1475,1339,1300,1350,1312,1362,1272,1420,1272,1272,1380];
const seriesLabelTheta = [47.92,48.07,48.22,47.19,48.36,48.07,47.73,48.02,48.51];
const seriesLabelLevel = [135,248,391,549,675,880,1017,1187,1266];
const axisTitle = '2\u03B8 (Cu K\u03B1)';

// ---------- STYLE ----------
const traces = [conv28d, rc01_28d, rc02_28d, rc03_28d, gr28d, rc01_90c, rc02_90c, rc03_90c, gr90c];
const colors = ['#000000','#ff0000','#404040','#0000ff','#008080','#ff0000','#404040','#0000ff','#008080'];
const drawOrder = [8,7,6,5,4,2,3,1,9];
const FONT = '"Liberation Sans", Arial, sans-serif';

const datasets = traces.map((t, i) => ({
  label: seriesNames[i],
  data: t.map(p => ({x: p[0], y: p[1] + seriesOffsets[i]})),
  borderColor: colors[i],
  borderWidth: 1.2,
  pointRadius: 0,
  tension: 0,
  fill: false,
  order: drawOrder[i]
}));

function stretchText(ctx, s, x, y, size, align, base, sx) {
  ctx.save();
  ctx.font = size + 'px ' + FONT;
  ctx.textAlign = align;
  ctx.textBaseline = base;
  ctx.fillStyle = '#000';
  ctx.translate(x, y);
  ctx.scale(sx, 1);
  ctx.fillText(s, 0, 0);
  ctx.restore();
}

const overlay = {
  id: 'overlay',
  afterDraw(chart) {
    const ctx = chart.ctx, xs = chart.scales.x, ys = chart.scales.y, ca = chart.chartArea;
    ctx.save();
    ctx.strokeStyle = '#000';
    ctx.lineWidth = 2;
    xTickValues.forEach(v => {
      const px = xs.getPixelForValue(v);
      const len = (v % 5 === 0) ? 14 : 7;
      ctx.beginPath(); ctx.moveTo(px, ca.bottom); ctx.lineTo(px, ca.bottom + len); ctx.stroke();
    });
    ctx.lineWidth = 2;
    ctx.strokeRect(7.5, 6.5, 1154, 1800);
    phaseLegend.forEach((s, k) => stretchText(ctx, s, 20, 47.7 + 45 * k, 28, 'left', 'alphabetic', 1.15));
    peakLabels.forEach((s, k) => stretchText(ctx, s, xs.getPixelForValue(peakLabelTheta[k]), ys.getPixelForValue(peakLabelLevel[k]), 28, 'center', 'middle', 1.08));
    seriesNames.forEach((s, k) => stretchText(ctx, s, xs.getPixelForValue(seriesLabelTheta[k]), ys.getPixelForValue(seriesLabelLevel[k]), 27, 'center', 'middle', 1.13));
    stretchText(ctx, axisTitle, xs.getPixelForValue(41.55), ca.bottom + 86, 29, 'center', 'middle', 1.15);
    ctx.restore();
  }
};

new Chart(document.getElementById('c'), {
  type: 'line',
  data: { datasets },
  options: {
    responsive: false,
    animation: false,
    events: [],
    layout: { padding: { left: 76.5, right: 206, top: 7, bottom: 49 } },
    plugins: { legend: { display: false }, tooltip: { enabled: false } },
    scales: {
      x: {
        type: 'linear', position: 'bottom', min: 2, max: 45,
        afterBuildTicks: (scale) => { scale.ticks = xTickValues.map(v => ({ value: v })); },
        afterFit: (scale) => { scale.height = 60; },
        grid: { display: true, drawOnChartArea: false, drawTicks: false },
        border: { display: true, color: '#000', width: 2.5 },
        ticks: {
          autoSkip: false, maxRotation: 0, padding: 19, color: '#000',
          font: { family: FONT, size: 24 },
          callback: (v) => (v % 5 === 0 ? String(v) : '')
        }
      },
      y: { type: 'linear', display: false, min: 0, max: 1640 }
    }
  },
  plugins: [overlay]
});
</script>
</body></html>
